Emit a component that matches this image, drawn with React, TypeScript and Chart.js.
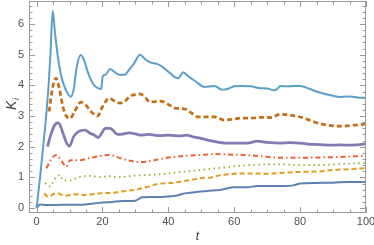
import React, { useEffect, useRef } from "react";
import { Chart, registerables } from "chart.js";

Chart.register(...registerables);

// ---- data ----
const lightBlueT = [0, 1.06, 2.0, 2.9, 3.65, 4.2, 4.9, 5.6, 6.5, 7.5, 8.5, 9.5, 10.4, 11.3, 12.2, 13.4, 14.5, 15.5, 16.5, 17.5, 18.5, 19.6, 20.1, 21, 22.3, 23.5, 25, 26.8, 28, 29.5, 31.4, 33, 34.5, 36.5, 38, 40.5, 42, 43, 44.5, 46, 48, 51, 54, 56.3, 58, 60, 62, 65, 67.8, 70, 72, 73, 74, 76, 78, 80, 83, 85, 87.5, 90, 92, 94, 96, 98, 100];
const lightBlueV = [0, 1, 2, 3, 4, 5, 6.43, 5.7, 4.9, 4.3, 3.95, 3.72, 3.63, 3.9, 4.6, 4.99, 4.8, 4.45, 4.18, 4.0, 3.92, 3.88, 4.3, 4.35, 4.53, 4.45, 4.35, 4.35, 4.5, 4.7, 5.0, 4.85, 4.75, 4.7, 4.62, 4.4, 4.27, 4.23, 4.43, 4.3, 4.15, 3.95, 3.98, 3.86, 3.88, 3.97, 3.98, 3.97, 3.91, 3.9, 3.84, 3.88, 3.98, 3.97, 3.98, 3.98, 3.88, 3.8, 3.72, 3.66, 3.62, 3.64, 3.63, 3.6, 3.59];

const darkOrangeT = [3.8, 4.9, 5.9, 7, 8, 9, 10.2, 11.5, 13.5, 15, 16.5, 18.5, 20, 22, 23.5, 25.3, 27, 28.4, 30, 31.4, 33, 34.4, 36, 37.5, 40, 42, 45, 47, 49, 52, 54, 57, 60, 62, 65, 68, 71, 74, 77, 80, 82, 84.5, 87, 90, 93, 96, 100];
const darkOrangeV = [3.15, 3.95, 4.24, 3.85, 3.3, 3.0, 2.92, 3.15, 3.45, 3.35, 3.15, 3.0, 3.3, 3.58, 3.5, 3.42, 3.5, 3.65, 3.7, 3.72, 3.6, 3.46, 3.47, 3.49, 3.38, 3.26, 3.23, 3.1, 2.97, 2.97, 2.97, 2.87, 2.9, 2.93, 2.93, 2.96, 2.95, 3.06, 3.03, 2.97, 2.9, 2.8, 2.73, 2.68, 2.67, 2.7, 2.74];

const purpleT = [3.3, 4.5, 5.6, 6.6, 8, 9, 10, 11.2, 12.7, 14.7, 16.2, 17.5, 18.7, 20, 20.8, 22.3, 24.7, 26, 28, 30, 31.4, 34, 37.5, 40, 43.5, 45.5, 47, 49.6, 53.6, 57.8, 60, 64, 67, 70, 74, 77, 80, 83, 86, 89, 92, 95, 98, 100];
const purpleV = [2.0, 2.45, 2.72, 2.78, 2.45, 2.15, 2.02, 2.32, 2.49, 2.54, 2.44, 2.38, 2.3, 2.48, 2.6, 2.6, 2.4, 2.41, 2.45, 2.42, 2.38, 2.4, 2.36, 2.38, 2.35, 2.38, 2.34, 2.28, 2.18, 2.12, 2.12, 2.12, 2.18, 2.14, 2.12, 2.13, 2.12, 2.08, 2.07, 2.05, 2.06, 2.05, 2.07, 2.09];

const redT = [3.0, 4.5, 5.9, 7.5, 9, 10.2, 13.2, 16, 19.3, 22.3, 25.3, 28, 31.4, 34.4, 39, 45, 49.6, 54, 60, 65, 70, 74, 80, 85, 90, 95, 100];
const redV = [1.3, 1.6, 1.73, 1.55, 1.35, 1.56, 1.56, 1.63, 1.7, 1.73, 1.63, 1.55, 1.5, 1.53, 1.63, 1.7, 1.73, 1.76, 1.74, 1.72, 1.67, 1.64, 1.64, 1.65, 1.66, 1.68, 1.7];

const greenT = [2.6, 4.1, 5.5, 7.1, 8, 10, 13.2, 16, 19.3, 22, 25, 30, 37.5, 43.5, 49.6, 55.7, 61.7, 66, 71, 76, 80, 85, 90, 95, 100];
const greenV = [0.82, 0.7, 0.95, 1.08, 0.91, 0.9, 1.02, 1.05, 1.01, 1.04, 1.01, 1.06, 1.1, 1.17, 1.24, 1.31, 1.38, 1.41, 1.43, 1.42, 1.4, 1.4, 1.42, 1.45, 1.47];

const orangeT = [2.3, 3.5, 6.1, 8.6, 11.7, 14.7, 19.3, 23, 27, 30, 34, 37.5, 41, 43.5, 47, 50, 53, 55.7, 58, 61.7, 66, 70, 75, 80, 85, 90, 95, 100];
const orangeV = [0.48, 0.37, 0.49, 0.4, 0.45, 0.43, 0.48, 0.5, 0.56, 0.6, 0.7, 0.8, 0.82, 0.86, 0.92, 0.98, 1.0, 1.07, 1.1, 1.13, 1.13, 1.12, 1.15, 1.18, 1.19, 1.24, 1.27, 1.3];

const blueT = [0, 1, 3, 6, 10, 15, 19, 23, 26, 30, 32, 35, 40, 43, 45, 48, 52, 56, 60, 64, 67, 70, 75, 78, 80, 85, 90, 95, 100];
const blueV = [0, 0.12, 0.1, 0.1, 0.11, 0.12, 0.17, 0.2, 0.23, 0.24, 0.35, 0.36, 0.38, 0.42, 0.48, 0.52, 0.56, 0.6, 0.68, 0.68, 0.72, 0.72, 0.72, 0.74, 0.8, 0.82, 0.83, 0.85, 0.85];

const xTickLabels = [0, 20, 40, 60, 80, 100];
const yTickLabels = [0, 1, 2, 3, 4, 5, 6];

const pts = (t: number[], v: number[]) => t.map((x, i) => ({ x, y: v[i] }));

const FONT = "'Liberation Sans', Arial, sans-serif";

const framePlugin = {
  id: "mmaFrame",
  afterDraw(chart: any) {
    const { ctx, chartArea: a, scales } = chart;
    const xs = scales.x;
    const ys = scales.y;
    ctx.save();
    ctx.strokeStyle = "#9a9a9a";
    ctx.lineWidth = 1;
    ctx.strokeRect(a.left + 0.5, a.top + 0.5, a.right - a.left - 1, a.bottom - a.top - 1);
    ctx.beginPath();
    for (let v = 0; v <= 100.001; v += 5) {
      const px = Math.round(xs.getPixelForValue(v)) + 0.5;
      const len = v % 20 === 0 ? 6 : 3.5;
      ctx.moveTo(px, a.bottom);
      ctx.lineTo(px, a.bottom - len);
      ctx.moveTo(px, a.top);
      ctx.lineTo(px, a.top + len);
    }
    for (let k = 0; k <= 33; k++) {
      const v = k * 0.2;
      const py = Math.round(ys.getPixelForValue(v)) + 0.5;
      if (py < a.top || py > a.bottom) continue;
      const len = k % 5 === 0 ? 6 : 3.5;
      ctx.moveTo(a.left, py);
      ctx.lineTo(a.left + len, py);
      ctx.moveTo(a.right, py);
      ctx.lineTo(a.right - len, py);
    }
    ctx.stroke();

    ctx.fillStyle = "#505050";
    ctx.font = `11px ${FONT}`;
    ctx.textAlign = "center";
    ctx.textBaseline = "top";
    xTickLabels.forEach((v) => {
      ctx.fillText(String(v), xs.getPixelForValue(v), a.bottom + 3);
    });
    ctx.textAlign = "right";
    ctx.textBaseline = "middle";
    yTickLabels.forEach((v) => {
      ctx.fillText(String(v), a.left - 5, ys.getPixelForValue(v));
    });

    ctx.fillStyle = "#404040";
    ctx.font = `italic 12px ${FONT}`;
    ctx.textAlign = "center";
    ctx.textBaseline = "middle";
    ctx.fillText("t", (a.left + a.right) / 2, 237);

    ctx.translate(12, 103);
    ctx.rotate(-Math.PI / 2);
    ctx.textAlign = "left";
    ctx.font = `italic 14px ${FONT}`;
    ctx.fillText("K", -7, 0);
    ctx.font = `italic 9px ${FONT}`;
    ctx.fillText("i", 3, 4);
    ctx.restore();
  },
};

export default function App() {
  const ref = useRef<HTMLCanvasElement>(null);
  useEffect(() => {
    document.body.style.margin = "0";
    const ds = (t: number[], v: number[], color: string, width: number, dash: number[]) => ({
      data: pts(t, v),
      borderColor: color,
      borderWidth: width,
      borderDash: dash,
      pointRadius: 0,
      fill: false,
      cubicInterpolationMode: "monotone" as const,
    });
    const chart = new Chart(ref.current!, {
      type: "line",
      data: {
        datasets: [
          ds(lightBlueT, lightBlueV, "#5D9EC7", 2, []),
          ds(darkOrangeT, darkOrangeV, "#C56E1A", 2.75, [5, 3]),
          ds(purpleT, purpleV, "#8778B3", 2.75, []),
          ds(redT, redV, "#EB6235", 2, [5, 3, 1.5, 3]),
          ds(greenT, greenV, "#8FB032", 1.8, [1.5, 3.5]),
          ds(orangeT, orangeV, "#E19C24", 2, [5, 3]),
          ds(blueT, blueV, "#5E81B5", 2, []),
        ],
      },
      options: {
        animation: false,
        responsive: false,
        maintainAspectRatio: false,
        layout: { padding: { left: 29, right: 8, top: 1, bottom: 32 } },
        plugins: { legend: { display: false }, tooltip: { enabled: false } },
        scales: {
          x: { type: "linear", min: -2.3, max: 100, display: false },
          y: { type: "linear", min: -0.16, max: 6.75, display: false },
        },
      },
      plugins: [framePlugin],
    });
    return () => chart.destroy();
  }, []);
  return (
    <div style={{ width: 374, height: 245 }}>
      <canvas ref={ref} width={374} height={245} style={{ display: "block" }} />
    </div>
  );
}
